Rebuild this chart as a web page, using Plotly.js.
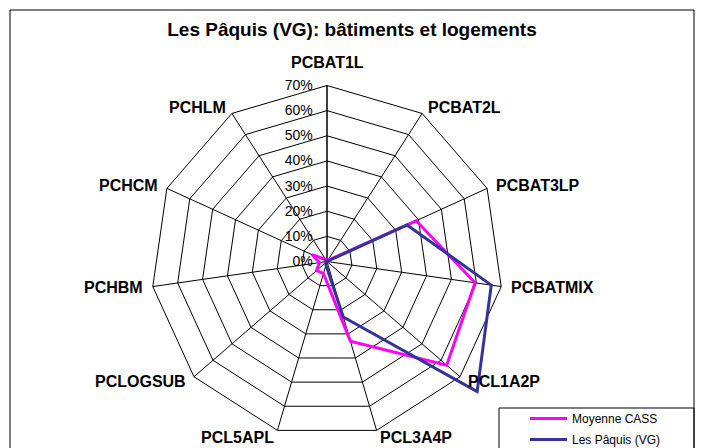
<!DOCTYPE html>
<html>
<head>
<meta charset="utf-8">
<script src="https://cdn.plot.ly/plotly-3.0.1.min.js"></script>
<style>html,body{margin:0;padding:0;background:#fff;width:703px;height:448px;overflow:hidden;}#chart{width:703px;height:470px;}</style>
</head>
<body>
<div id="chart"></div>
<script>
const categories = ["PCBAT1L","PCBAT2L","PCBAT3LP","PCBATMIX","PCL1A2P","PCL3A4P","PCL5APL","PCLOGSUB","PCHBM","PCHCM","PCHLM"];
const moyenneCASS = [0.5, 0.5, 39, 59.5, 63, 33, 5, 5.5, 3, 6.5, 1];
const lesPaquis = [0, 0, 35, 66, 79, 23, 1.5, 0.5, 0.5, 0.5, 0];
const radialTicks = [0, 10, 20, 30, 40, 50, 60, 70];
const radialTickText = ["0%","10%","20%","30%","40%","50%","60%","70%"];

function closed(a){ return a.concat([a[0]]); }

const traces = [
  {type:"scatterpolar", subplot:"polar", mode:"lines", name:"grid", showlegend:false, hoverinfo:"skip",
   r:categories.map(()=>0), theta:categories, line:{color:"rgba(0,0,0,0)", width:0}},
  {type:"scatterpolar", subplot:"polar2", mode:"lines", name:"Moyenne CASS", legendgroup:"a", r:closed(moyenneCASS), theta:closed(categories),
   line:{color:"#FF00FF", width:3}},
  {type:"scatterpolar", subplot:"polar2", mode:"lines", name:"Les Pâquis (VG)", legendgroup:"b", r:closed(lesPaquis), theta:closed(categories),
   line:{color:"#333399", width:3}}
];

const W = 703, H = 470;
const cx = 327, cy = 261.5, R = 176;
const gridMax = 70, dataMax = 80;
const R2 = R * dataMax / gridMax;
function dom(rad){ return {x:[(cx-rad)/W,(cx+rad)/W], y:[1-(cy+rad)/H, 1-(cy-rad)/H]}; }

// category labels placed just outside the outer polygon vertex of each category
const labelAnnotations = categories.map((c, i) => {
  const a = i * 2 * Math.PI / categories.length;
  const dx = Math.sin(a), dy = -Math.cos(a);
  const vx = cx + R * dx, vy = cy + R * dy;
  let x, y, xanchor;
  if (Math.abs(dx) < 0.1) { x = vx; y = vy + 23 * dy; xanchor = "center"; }
  else { x = vx + 9 * dx; y = vy + 7 * dy; xanchor = dx > 0 ? "left" : "right"; }
  return {text:"<b>"+c+"</b>", xref:"paper", yref:"paper", x:x/W, y:1-y/H, xanchor:xanchor, yanchor:"middle",
          showarrow:false, font:{size:16, color:"#000"}, borderpad:0};
});

const layout = {
  width: W, height: H,
  margin:{l:0,r:0,t:0,b:0},
  paper_bgcolor:"#fff",
  font:{family:"Liberation Sans, Arial, sans-serif", color:"#000"},
  title:{text:"<b>Les Pâquis (VG): bâtiments et logements</b>", font:{size:19, color:"#000"}, x:352/W, xanchor:"center", y:1-29/H, yanchor:"middle"},
  showlegend:true,
  legend:{x:499/W, xanchor:"left", y:1-404/H, yanchor:"top", borderwidth:0, bgcolor:"rgba(0,0,0,0)",
          font:{size:12, color:"#000"}, indentation:26, itemwidth:37, tracegroupgap:2},
  polar:{
    domain:dom(R),
    bgcolor:"rgba(0,0,0,0)",
    gridshape:"linear",
    radialaxis:{range:[0,gridMax], tickvals:radialTicks, ticktext:radialTickText.map(t => t + "\u00a0"), angle:90, side:"counterclockwise", tickangle:90,
      showline:true, linecolor:"#000", linewidth:1, gridcolor:"#000", gridwidth:1,
      ticks:"outside", ticklen:5, tickcolor:"rgba(0,0,0,0)", tickfont:{size:14, color:"#000"}},
    angularaxis:{type:"category", categoryarray:categories, rotation:90, direction:"clockwise",
      showline:true, linecolor:"#000", linewidth:1, gridcolor:"#000", gridwidth:1,
      ticks:"", showticklabels:false}
  },
  polar2:{
    domain:dom(R2),
    bgcolor:"rgba(0,0,0,0)",
    gridshape:"linear",
    radialaxis:{range:[0,dataMax], visible:false, showgrid:false, showline:false, showticklabels:false},
    angularaxis:{type:"category", categoryarray:categories, rotation:90, direction:"clockwise",
      showgrid:false, showline:false, showticklabels:false, ticks:""}
  },
  annotations: labelAnnotations,
  shapes:[
    {type:"rect", xref:"paper", yref:"paper", x0:10/W, x1:694/W, y0:-0.2, y1:1-10/H, line:{color:"#000", width:1}},
    {type:"rect", xref:"paper", yref:"paper", x0:499/W, x1:694/W, y0:-0.2, y1:1-408/H, line:{color:"#000", width:1}, fillcolor:"rgba(0,0,0,0)", layer:"below"}
  ]
};

Plotly.newPlot("chart", traces, layout, {displayModeBar:false, staticPlot:true});
</script>
</body>
</html>
